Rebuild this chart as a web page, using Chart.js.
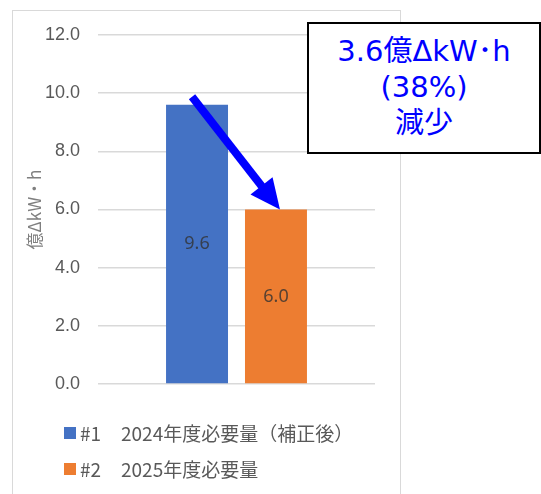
<!DOCTYPE html>
<html><head><meta charset="utf-8">
<script src="https://cdn.jsdelivr.net/npm/chart.js@4/dist/chart.umd.min.js"></script>
<style>
html,body{margin:0;padding:0;background:#fff;width:541px;height:494px;overflow:hidden;position:relative;font-family:"Noto Sans CJK JP","Noto Sans",sans-serif;}
#frame{position:absolute;left:12px;top:10px;width:389px;height:520px;border:1.5px solid #d9d9d9;box-sizing:border-box;}
#c{position:absolute;left:0;top:0;}
.leg{position:absolute;left:64px;font-size:19px;color:#595959;white-space:nowrap;line-height:24px;}
.leg .sw{position:absolute;left:0;top:6px;width:12px;height:12px;}
.leg .id{position:absolute;left:16px;}
.leg .tx{position:absolute;left:57px;}
#callout{position:absolute;left:307px;top:22px;width:234px;height:132px;border:2px solid #000;box-sizing:border-box;background:#fff;color:#0000ff;text-align:center;font-family:"DejaVu Sans","Noto Sans CJK JP",sans-serif;font-size:29px;line-height:36px;padding-top:9px;}
</style></head>
<body>
<div id="frame"></div>
<canvas id="c" width="541" height="494"></canvas>
<div class="leg" id="leg1" style="top:421px"></div>
<div class="leg" id="leg2" style="top:457px"></div>
<div id="callout">3.6億ΔkW･h<br>(38%)<br>減少</div>
<script>
const categories = [""];
const seriesNames = ["2024年度必要量（補正後）", "2025年度必要量"];
const seriesIds = ["#1", "#2"];
const series1 = [9.6];
const series2 = [6.0];
const yTicks = [0, 2, 4, 6, 8, 10, 12];
const colors = ["#4472C4", "#ED7D31"];

const valueLabels = {
  id: 'valueLabels',
  afterDatasetsDraw(chart) {
    const ctx = chart.ctx;
    ctx.save();
    ctx.font = '18px "Noto Sans","Liberation Sans",sans-serif';
    ctx.fillStyle = 'rgba(50,50,50,0.8)';
    ctx.textAlign = 'center';
    ctx.textBaseline = 'middle';
    chart.data.datasets.forEach((ds, i) => {
      chart.getDatasetMeta(i).data.forEach((bar, j) => {
        const v = ds.data[j];
        ctx.fillText(v.toFixed(1), bar.x, (bar.y + bar.base) / 2);
      });
    });
    ctx.restore();
  }
};

const arrow = {
  id: 'arrow',
  afterDraw(chart) {
    const b1 = chart.getDatasetMeta(0).data[0];
    const b2 = chart.getDatasetMeta(1).data[0];
    const x0 = b1.x - 5, y0 = b1.y - 8;
    const x1 = b2.x + 4, y1 = b2.y;
    const ang = Math.atan2(y1 - y0, x1 - x0);
    const headLen = 30, headW = 14;
    const ctx = chart.ctx;
    ctx.save();
    ctx.strokeStyle = '#0000ff';
    ctx.fillStyle = '#0000ff';
    ctx.lineWidth = 8;
    ctx.lineCap = 'butt';
    const bx = x1 - headLen * Math.cos(ang), by = y1 - headLen * Math.sin(ang);
    ctx.beginPath();
    ctx.moveTo(x0, y0);
    ctx.lineTo(bx + 2 * Math.cos(ang), by + 2 * Math.sin(ang));
    ctx.stroke();
    ctx.beginPath();
    ctx.moveTo(x1, y1);
    ctx.lineTo(bx + headW * Math.sin(ang), by - headW * Math.cos(ang));
    ctx.lineTo(bx - headW * Math.sin(ang), by + headW * Math.cos(ang));
    ctx.closePath();
    ctx.fill();
    ctx.restore();
  }
};

new Chart(document.getElementById('c'), {
  type: 'bar',
  data: {
    labels: categories,
    datasets: [
      { label: seriesNames[0], data: series1, backgroundColor: colors[0] },
      { label: seriesNames[1], data: series2, backgroundColor: colors[1] }
    ]
  },
  options: {
    responsive: false,
    animation: false,
    devicePixelRatio: 1,
    layout: { padding: { left: 12, top: 35, right: 166, bottom: 110 } },
    datasets: { bar: { categoryPercentage: 0.57, barPercentage: 0.785 } },
    plugins: { legend: { display: false }, tooltip: { enabled: false } },
    scales: {
      x: { display: false },
      y: {
        min: 0, max: 12,
        afterFit(s) { s.width = 86; },
        afterBuildTicks(s) { s.ticks = yTicks.map(v => ({ value: v })); },
        ticks: {
          padding: 18,
          color: '#595959',
          font: { size: 18, family: '"Liberation Sans","Noto Sans",sans-serif' },
          callback: v => v.toFixed(1)
        },
        grid: { color: '#d9d9d9', lineWidth: 1.5, drawTicks: false },
        border: { display: false },
        title: {
          display: true,
          text: '億ΔkW・h',
          color: '#7f7f7f',
          font: { size: 17, family: '"Noto Sans CJK JP",sans-serif' },
          padding: { top: 12, bottom: 0 }
        }
      }
    }
  },
  plugins: [valueLabels, arrow]
});

function legRow(el, i) {
  el.innerHTML = '<span class="sw" style="background:' + colors[i] + '"></span><span class="id">' + seriesIds[i] + '</span><span class="tx">' + seriesNames[i] + '</span>';
}
legRow(document.getElementById('leg1'), 0);
legRow(document.getElementById('leg2'), 1);
</script>
</body></html>
